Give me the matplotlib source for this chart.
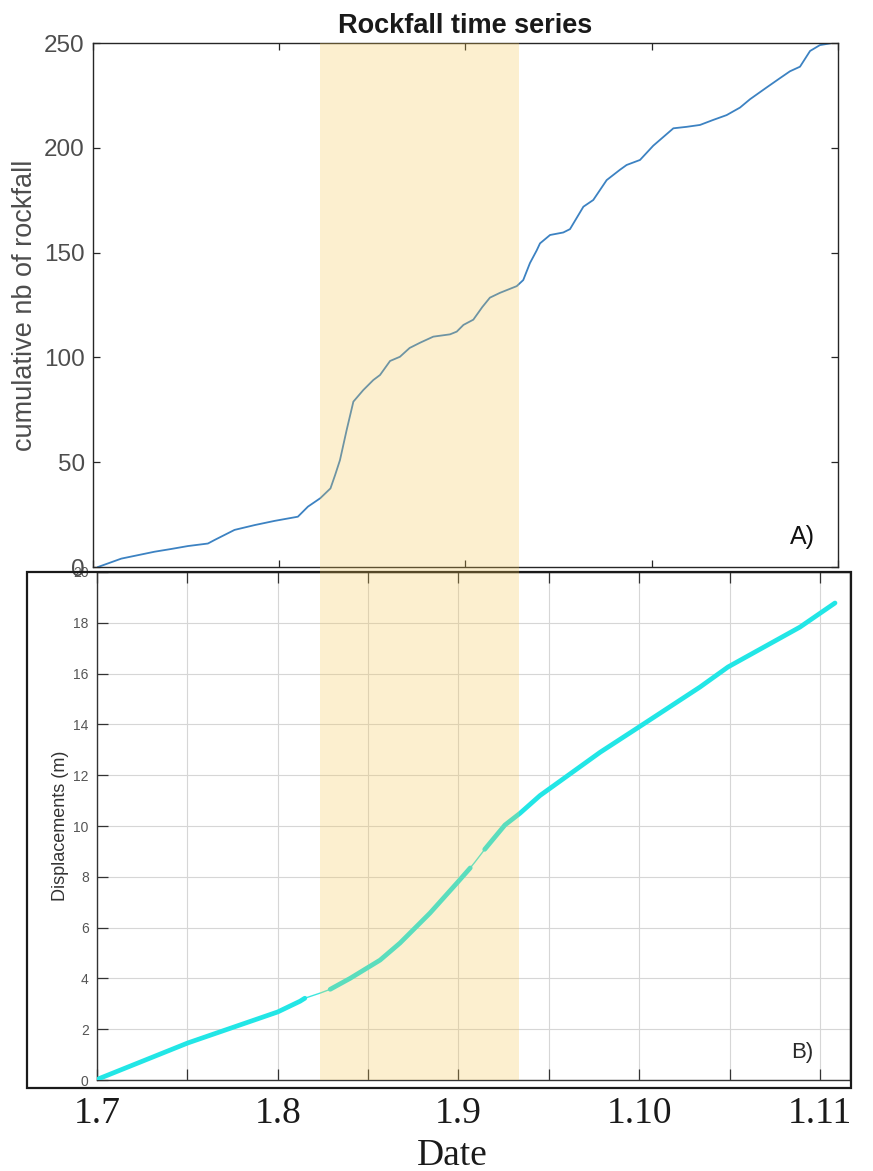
import matplotlib
matplotlib.use("Agg")
import matplotlib.pyplot as plt
import numpy as np
from matplotlib.patches import Rectangle
from matplotlib import transforms

# ---------------------------------------------------------------- data
# x axis: months elapsed since 1 July (0 = 1.7, 1 = 1.8, ... 4 = 1.11)
ROCK_MONTH = [0.027, 0.152, 0.331, 0.42, 0.51, 0.617, 0.653, 0.76, 0.868, 0.975,
              1.10, 1.154, 1.22, 1.275, 1.30, 1.326, 1.362, 1.398, 1.451, 1.505,
              1.541, 1.595, 1.648, 1.70, 1.756, 1.827, 1.917, 1.953, 1.989, 2.042,
              2.09, 2.131, 2.185, 2.275, 2.31, 2.346, 2.382, 2.40, 2.454, 2.525,
              2.561, 2.633, 2.686, 2.758, 2.829, 2.865, 2.937, 3.008, 3.116, 3.187,
              3.259, 3.33, 3.402, 3.474, 3.528, 3.617, 3.688, 3.742, 3.796, 3.85,
              3.903, 3.957]
ROCK_COUNT = [0, 4, 7.3, 8.6, 10, 11.2, 12.9, 17.7, 20, 22,
              24, 28.8, 32.8, 37.5, 43.9, 51, 65.4, 78.9, 84.4, 89.2,
              91.6, 98.3, 100.3, 104.5, 107, 109.9, 111, 112.3, 115.5, 118,
              124, 128.5, 130.8, 134, 136.9, 145, 151, 154.4, 158.4, 159.6,
              161.2, 171.9, 175.1, 184.6, 189.5, 191.8, 194.2, 201, 209.3, 210,
              210.9, 213.3, 215.6, 219.2, 223.2, 228.8, 233.2, 236.5, 238.7, 246.2,
              249, 249.8]

DISP_MONTH = [0.01, 0.503, 1.0, 1.123, 1.15, 1.234, 1.29, 1.40, 1.566, 1.676,
              1.842, 1.997, 2.065, 2.091, 2.145, 2.174, 2.257, 2.34, 2.451, 2.50,
              2.783, 2.999, 3.336, 3.491, 3.889, 4.083]
DISP_M = [0.05, 1.46, 2.68, 3.1, 3.22, 3.42, 3.57, 4.0, 4.72, 5.39,
          6.57, 7.8, 8.35, 8.58, 9.08, 9.33, 10.04, 10.5, 11.2, 11.45,
          12.9, 13.9, 15.47, 16.26, 17.83, 18.78]
# intervals without measurements (drawn as a thin connecting line)
DISP_GAPS = [(1.15, 1.29), (2.065, 2.145)]

MONTH_TICKS = [0, 1, 2, 3, 4]
MONTH_MINOR = [0.5, 1.5, 2.5, 3.5]
MONTH_LABELS = ["1.7", "1.8", "1.9", "1.10", "1.11"]
ROCK_YTICKS = [0, 50, 100, 150, 200, 250]
DISP_YTICKS = list(range(0, 21, 2))

# period of accelerated activity
SHADE = (1.234, 2.335)

# ---------------------------------------------------------------- figure
W, H = 873, 1171
plt.rcParams["font.family"] = ["Liberation Sans", "DejaVu Sans"]
fig = plt.figure(figsize=(W / 100, H / 100), dpi=100)

axt = fig.add_axes([93 / W, 1 - 567 / H, 745 / W, 524 / H])
axb = fig.add_axes([97 / W, 1 - 1080 / H, 753 / W, 508 / H])
axt.set_zorder(2)

# ---- top: cumulative rockfall count
axt.plot(ROCK_MONTH, ROCK_COUNT, color="#3c82c2", lw=1.3, solid_joinstyle="round")
axt.set_xlim(0, 4)
axt.set_ylim(0, 250)
axt.set_xticks(MONTH_TICKS)
axt.set_xticklabels([])
axt.set_yticks(ROCK_YTICKS)
axt.tick_params(direction="in", top=True, right=True, length=5, width=0.9,
                color="#262626", labelsize=17.5, labelcolor="#4d4d4d", pad=6)
for s in axt.spines.values():
    s.set_color("#262626")
    s.set_linewidth(1.0)
axt.set_ylabel("cumulative nb of rockfall", fontsize=19.5, color="#4d4d4d", labelpad=4)
axt.set_title("Rockfall time series", fontsize=19.5, fontweight="bold",
              color="#1a1a1a", pad=7)
axt.text(0.952, 0.057, "A)", transform=axt.transAxes, fontsize=18,
         ha="center", va="center", color="#111111")

# ---- bottom: displacement
dm = np.asarray(DISP_MONTH)
dv = np.asarray(DISP_M)
axb.plot(dm, dv, color="#3fe6df", lw=1.0, zorder=3)
bounds = [dm[0]] + [v for g in DISP_GAPS for v in g] + [dm[-1]]
for lo, hi in zip(bounds[0::2], bounds[1::2]):
    sel = (dm >= lo) & (dm <= hi)
    axb.plot(dm[sel], dv[sel], color="#22e6e6", lw=3.4,
             solid_capstyle="round", zorder=4)

axb.set_xlim(0, 4.166)
axb.set_ylim(0, 20)
axb.set_xticks(MONTH_TICKS)
axb.set_xticks(MONTH_MINOR, minor=True)
axb.set_xticklabels(MONTH_LABELS, fontfamily=["Liberation Serif", "DejaVu Serif"],
                    fontsize=27, color="#1a1a1a")
axb.set_yticks(DISP_YTICKS)
axb.grid(which="both", axis="x", color="#d6d6d6", lw=0.8)
axb.grid(which="major", axis="y", color="#d6d6d6", lw=0.8)
axb.set_axisbelow(True)
axb.tick_params(axis="x", which="both", direction="in", top=True, bottom=True,
                length=8, width=0.9, color="#333333", pad=12)
axb.tick_params(axis="y", direction="in", left=True, right=False, length=8,
                width=0.9, color="#333333", labelsize=10, labelcolor="#555555", pad=6)
for s in axb.spines.values():
    s.set_color("#333333")
    s.set_linewidth(1.0)
axb.set_ylabel("Displacements (m)", fontsize=13, color="#333333", labelpad=3)
axb.set_xlabel("Date", fontfamily=["Liberation Serif", "DejaVu Serif"],
               fontsize=27, color="#1a1a1a")
axb.xaxis.set_label_coords((452 - 97) / 753, -0.115)
axb.text(0.936, 0.055, "B)", transform=axb.transAxes, fontsize=16,
         ha="center", va="center", color="#2a2a2a")

# frame around the displacement panel
fig.add_artist(Rectangle((27 / W, 1 - 1088 / H), (851 - 27) / W, (1088 - 572) / H,
                         transform=fig.transFigure, fill=False,
                         ec="#1a1a1a", lw=1.6, zorder=3))

# shaded period spanning both panels
band = transforms.blended_transform_factory(axb.transData, fig.transFigure)
fig.add_artist(Rectangle((SHADE[0], 1 - 1080 / H), SHADE[1] - SHADE[0],
                         (1080 - 43) / H, transform=band,
                         fc=(247 / 255, 199 / 255, 81 / 255), alpha=0.27,
                         ec="none", zorder=5))

fig.savefig("out.png", dpi=100)
